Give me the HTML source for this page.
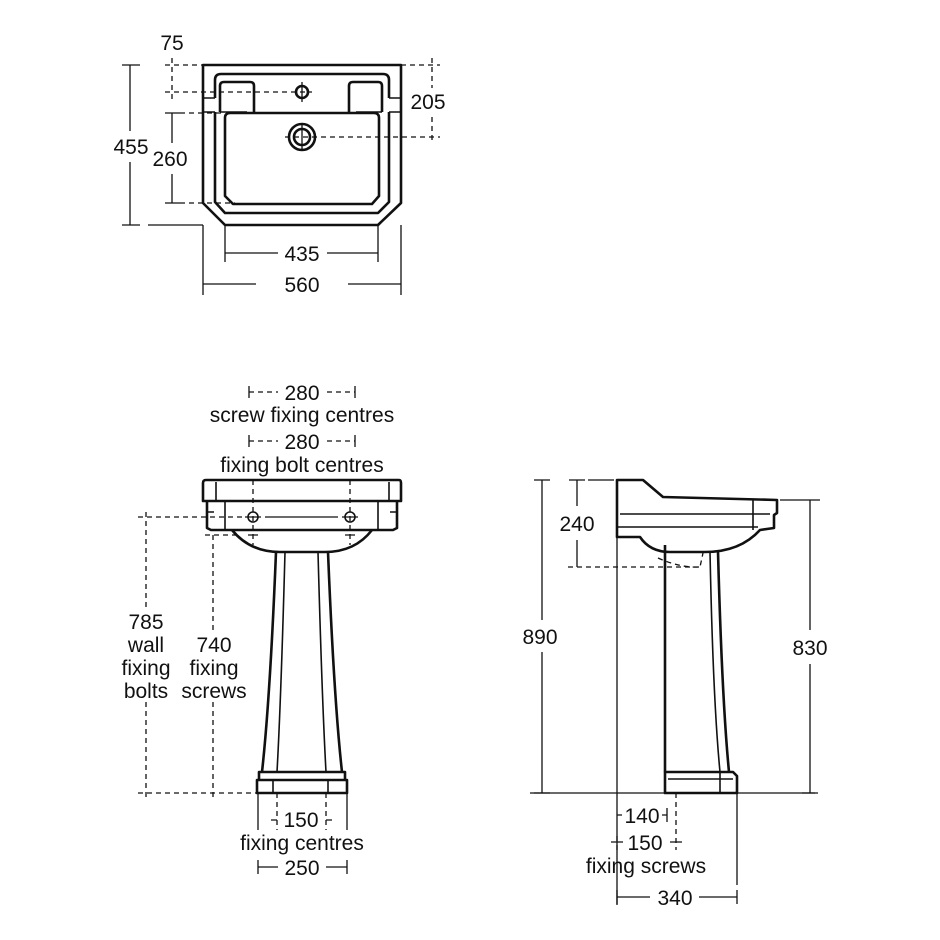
<!DOCTYPE html>
<html><head><meta charset="utf-8"><style>
html,body{margin:0;padding:0;background:#fff}
svg{display:block}
text{font-family:"Liberation Sans",sans-serif;font-size:21px;fill:#111;text-anchor:middle}
.o{fill:none;stroke:#111;stroke-width:2.6;stroke-linejoin:round}
.t{fill:none;stroke:#111;stroke-width:1.6}
.d{fill:none;stroke:#111;stroke-width:1.3}
.k{fill:none;stroke:#111;stroke-width:1.3;stroke-dasharray:5,4}
</style></head><body>
<svg width="940" height="940" viewBox="0 0 940 940" xmlns="http://www.w3.org/2000/svg">
<!-- TOP VIEW -->
<path class="o" d="M203,65 H401 V203 L378,225 H225 L203,203 Z"/>
<path class="o" d="M215,98 V80 Q215,74 221,74 H383 Q389,74 389,80 V98 M389,112 V202 L378,213 H225 L215,202 V112"/>
<path class="t" d="M203,98 H215 M203,112 H215 M389,98 H401 M389,112 H401"/>
<path class="o" d="M228,113 H374 Q379,113 379,118 V196 L372,204 H233 L225,196 V118 Q225,113 230,113"/>
<path class="o" d="M220,112 V86 Q220,82 224,82 H250 Q254,82 254,86 V112 M349,112 V86 Q349,82 353,82 H378 Q382,82 382,86 V112"/>
<path class="t" d="M220,112 H247 M356,112 H382"/>
<circle class="o" cx="302" cy="92" r="6"/>
<circle class="o" cx="302" cy="137" r="13"/>
<circle class="o" cx="302" cy="137" r="8"/>
<path class="d" d="M302,82 V102 M302,124 V150"/>
<!-- dims top -->
<path class="d" d="M130,65 V131 M130,162 V225 M122,65 H140 M122,225 H140 M148,225 H203"/>
<text x="131" y="154">455</text>
<path class="k" d="M172,58 V100 M165,65 H203 M165,92 H312"/>
<text x="172" y="50">75</text>
<path class="d" d="M172,113 V143 M172,174 V203 M165,113 H180 M165,203 H180"/>
<path class="k" d="M180,113 H222 M180,203 H235"/>
<text x="170" y="166">260</text>
<path class="k" d="M432,58 V88 M432,117 V142 M401,65 H440 M285,137 H440"/>
<text x="428" y="109">205</text>
<path class="d" d="M225,225 V262 M378,225 V262 M225,253 H278 M327,253 H378"/>
<text x="302" y="261">435</text>
<path class="d" d="M203,225 V295 M401,225 V295 M203,284 H256 M348,284 H401 M203,276 V292 M401,276 V292"/>
<text x="302" y="292">560</text>
<!-- FRONT VIEW labels -->
<path class="k" d="M249,392 H278 M327,392 H355 M249,441 H278 M327,441 H355"/>
<path class="d" d="M249,386 V398 M355,386 V398 M249,435 V447 M355,435 V447"/>
<text x="302" y="400">280</text>
<text x="302" y="422">screw fixing centres</text>
<text x="302" y="449">280</text>
<text x="302" y="472">fixing bolt centres</text>
<!-- FRONT VIEW shape -->
<path class="o" d="M206,480 H399 Q401,480 401,483 V501 H203 V483 Q203,480 206,480 Z"/>
<path class="t" d="M216,482 V501 M389,482 V501"/>
<path class="o" d="M207,501 V528 L211,530 H393 L397,528 V501"/>
<path class="t" d="M225,501 V530 M378,501 V530 M207,512 H214 M390,512 H397"/>
<path class="o" d="M232,530 Q250,552 280,552 H325 Q355,552 372,530"/>
<path class="o" d="M276,552 Q270,700 262,772 M328,552 Q334,700 342,772"/>
<path class="t" d="M285,552 Q281,700 277,772 M318,552 Q322,700 326,772"/>
<path class="o" d="M259,772 H345 V780 H259 Z M257,780 H347 V793 H257 Z"/>
<path class="t" d="M273,780 V793 M328,780 V793"/>
<path class="k" d="M253,480 V545 M350,480 V545"/>
<circle class="t" cx="253" cy="517" r="5"/><circle class="t" cx="350" cy="517" r="5"/>
<path class="d" d="M245,517 H261 M342,517 H358 M265,517 H338 M248,535 H258 M345,535 H355"/>
<path class="k" d="M146,512 V608 M146,702 V800 M138,517 H245 M213,535 V630 M213,702 V800 M205,535 H240 M138,793 H257"/>
<text x="146" y="629">785</text>
<text x="146" y="652">wall</text>
<text x="146" y="675">fixing</text>
<text x="146" y="698">bolts</text>
<text x="214" y="652">740</text>
<text x="214" y="675">fixing</text>
<text x="214" y="698">screws</text>
<!-- bottom front dims -->
<path class="d" d="M258,793 V830 M347,793 V830"/>
<path class="k" d="M277,793 V830 M326,793 V830"/>
<path class="d" d="M271,820 H277 M326,820 H332"/>
<text x="301" y="827">150</text>
<text x="302" y="850">fixing centres</text>
<path class="d" d="M258,860 V874 M347,860 V874 M258,867 H278 M326,867 H347"/>
<text x="302" y="875">250</text>
<!-- SIDE VIEW -->
<path class="o" d="M617,537 V480 H643 L663,497 L777,500 V513 L774,515 V528 L760,530 Q740,552 705,552 H670 Q650,552 640,537 Z"/>
<path class="t" d="M620,514 H770 M617,527 H758 M753,500 V530"/>
<path class="o" d="M665,545 V772 M718,552 Q722,700 729,772"/>
<path class="t" d="M710,552 Q713,700 720,772"/>
<path class="o" d="M665,772 H733 L737,776 V793 H665 Z"/>
<path class="t" d="M720,772 V793 M668,779 H733"/>
<path class="k" d="M568,567 H700 M658,558 Q680,568 700,567 L703,553"/>
<path class="d" d="M617,480 V905 M530,793 H815"/>
<path class="d" d="M577,480 V506 M577,540 V567 M569,480 H585 M588,480 H614"/>
<text x="577" y="531">240</text>
<path class="d" d="M542,480 V620 M542,652 V793 M534,480 H550 M534,793 H550"/>
<text x="540" y="644">890</text>
<path class="d" d="M810,500 V630 M810,664 V793 M780,500 H820 M802,793 H818"/>
<text x="810" y="655">830</text>
<path class="d" d="M667,808 V822 M737,793 V885 M617,815 H622 M667,815 H662"/>
<path class="k" d="M676,793 V850 M617,836 V850"/>
<path class="d" d="M611,842 H623 M670,842 H682"/>
<text x="642" y="823">140</text>
<text x="645" y="850">150</text>
<text x="646" y="873">fixing screws</text>
<path class="d" d="M617,890 V904 M737,890 V904 M617,897 H650 M699,897 H737"/>
<text x="675" y="905">340</text>
</svg>
</body></html>
